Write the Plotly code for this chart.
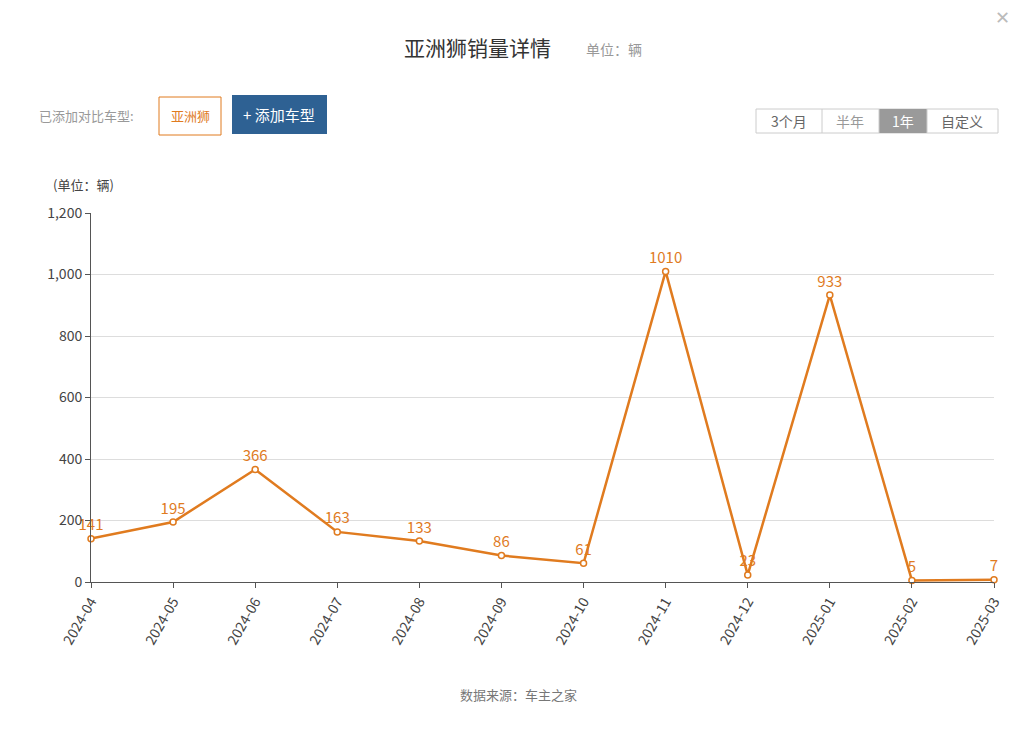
import plotly.graph_objects as go

months = ['2024-04', '2024-05', '2024-06', '2024-07', '2024-08', '2024-09',
          '2024-10', '2024-11', '2024-12', '2025-01', '2025-02', '2025-03']
sales = [141, 195, 366, 163, 133, 86, 61, 1010, 23, 933, 5, 7]

W, H = 1024, 753
orange = '#E07B1F'
font = 'Noto Sans CJK SC'


# page-pixel helpers (the page renders offset by about 7-8 px)
def px(x):
    return (x - 7) / W


def py(y):
    return 1 - (y - 8) / H


fig = go.Figure(go.Scatter(
    x=months, y=sales, mode='lines+markers+text',
    line=dict(color=orange, width=2.5),
    marker=dict(size=6, color='white', line=dict(color=orange, width=1.5)),
    text=[str(v) for v in sales], textposition='top center',
    textfont=dict(color=orange, size=15, family=font),
    cliponaxis=False, showlegend=False,
))

shapes = [
    # compare tag
    dict(type='rect', xref='paper', yref='paper', x0=px(158), x1=px(220), y0=py(97), y1=py(135),
         line=dict(color=orange, width=1), fillcolor='white'),
    dict(type='rect', xref='paper', yref='paper', x0=px(231), x1=px(326), y0=py(95), y1=py(134),
         line=dict(width=0), fillcolor='#2E6193'),
    # period buttons
    dict(type='rect', xref='paper', yref='paper', x0=px(755), x1=px(997), y0=py(109), y1=py(133),
         line=dict(color='#cccccc', width=1), fillcolor='white'),
    dict(type='rect', xref='paper', yref='paper', x0=px(878), x1=px(926), y0=py(109), y1=py(133),
         line=dict(width=0), fillcolor='#9a9a9a'),
]
for xd in [821, 878, 926]:
    shapes.append(dict(type='line', xref='paper', yref='paper', x0=px(xd), x1=px(xd),
                       y0=py(109), y1=py(133), line=dict(color='#cccccc', width=1)))


def ann(x, y, text, size=14, color='#666', xanchor='center'):
    return dict(x=px(x), y=py(y), xref='paper', yref='paper', text=text, showarrow=False,
                xanchor=xanchor, yanchor='middle', font=dict(size=size, color=color, family=font))


annotations = [
    ann(476, 47, '亚洲狮销量详情', size=21, color='#333'),
    ann(583, 49, '单位：辆', size=14, color='#999', xanchor='left'),
    ann(36, 116, '已添加对比车型:', size=13, color='#999', xanchor='left'),
    ann(189, 116, '亚洲狮', size=13, color=orange),
    ann(278, 115, '+ 添加车型', size=15, color='white'),
    ann(788, 121, '3个月', size=14, color='#666'),
    ann(849, 121, '半年', size=14, color='#999'),
    ann(902, 121, '1年', size=14, color='white'),
    ann(961, 121, '自定义', size=14, color='#666'),
    ann(50, 184, '(单位：辆)', size=13, color='#444', xanchor='left'),
    ann(517, 694, '数据来源：车主之家', size=13, color='#777'),
    ann(1001, 16, '✕', size=18, color='#bbb'),
]

fig.update_layout(
    width=W, height=H,
    margin=dict(l=0, r=0, t=0, b=0),
    paper_bgcolor='white', plot_bgcolor='white',
    font=dict(family=font, color='#555'),
    shapes=shapes, annotations=annotations,
    xaxis=dict(type='category', tickangle=-60, showline=True, linecolor='#555',
               ticks='outside', ticklen=5, tickcolor='#555', showgrid=False,
               tickfont=dict(size=14, color='#444'), range=[0, 11],
               domain=[px(90), px(993)], automargin=False),
    yaxis=dict(range=[0, 1200], dtick=200, tickformat=',', showgrid=True,
               gridcolor='#dddddd', showline=True, linecolor='#555', ticks='outside',
               ticklen=5, tickcolor='#555', tickfont=dict(size=14, color='#444'), zeroline=False,
               domain=[py(582), py(213)], automargin=False),
)

fig.write_html('out.html')
